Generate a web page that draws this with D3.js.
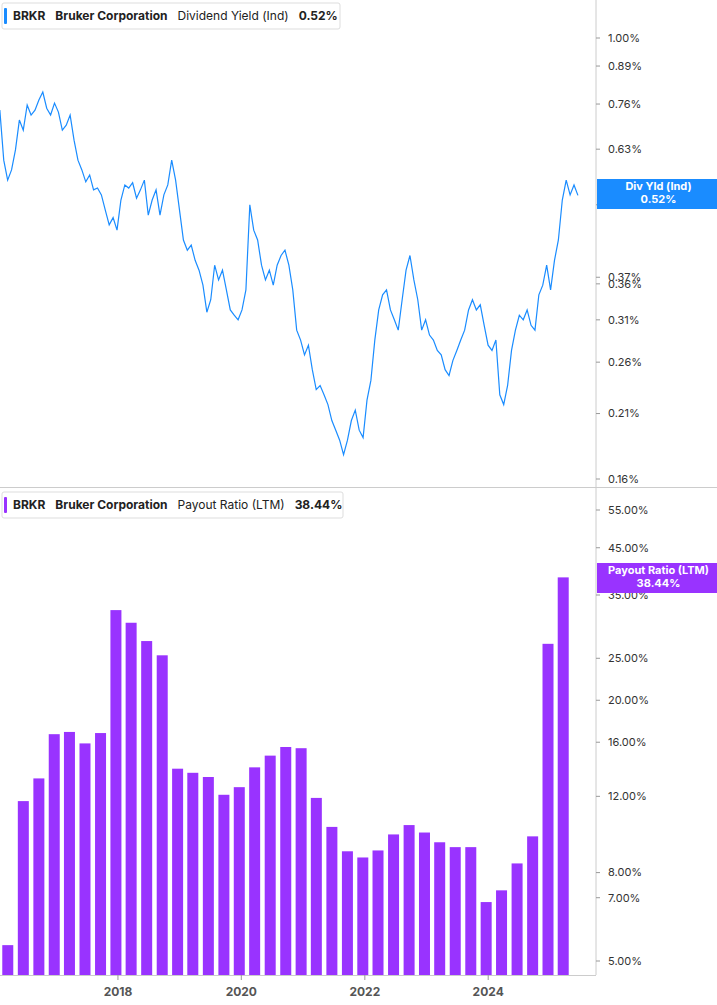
<!DOCTYPE html>
<html><head><meta charset="utf-8">
<script src="https://cdn.jsdelivr.net/npm/d3@7"></script>
<style>body{margin:0;background:#fff;font-family:Inter,"Open Sans",sans-serif}</style>
</head><body><svg id="c" width="717" height="1005"></svg>
<script>
const yieldStart = "2016-02-02", yieldEnd = "2025-06-15";
const yieldValues = [.741,.602,.554,.578,.628,.711,.682,.757,.726,.741,.773,.799,.747,.726,.763,.735,.682,.696,.726,.654,.602,.578,.550,.566,.532,.536,.521,.489,.460,.474,.450,.510,.543,.536,.548,.514,.532,.554,.479,.510,.532,.479,.521,.543,.602,.554,.489,.432,.414,.423,.397,.381,.358,.320,.337,.389,.366,.381,.351,.323,.316,.310,.323,.351,.500,.450,.432,.389,.366,.381,.358,.389,.405,.414,.389,.351,.297,.285,.268,.279,.252,.232,.236,.227,.218,.204,.196,.188,.177,.188,.204,.213,.196,.190,.222,.241,.285,.323,.344,.351,.323,.310,.297,.337,.381,.405,.366,.337,.297,.310,.291,.285,.273,.268,.252,.246,.262,.273,.285,.297,.323,.337,.323,.330,.303,.279,.273,.285,.227,.218,.236,.273,.297,.316,.310,.323,.303,.297,.344,.358,.389,.351,.397,.432,.510,.554,.521,.543,.520];
const yieldTicks = [1.00,0.89,0.76,0.63,0.50,0.37,0.36,0.31,0.26,0.21,0.16];
const payoutQuarters = ["2016-03","2016-06","2016-09","2016-12","2017-03","2017-06","2017-09","2017-12","2018-03","2018-06","2018-09","2018-12","2019-03","2019-06","2019-09","2019-12","2020-03","2020-06","2020-09","2020-12","2021-03","2021-06","2021-09","2021-12","2022-03","2022-06","2022-09","2022-12","2023-03","2023-06","2023-09","2023-12","2024-03","2024-06","2024-09","2024-12","2025-03"];
const payoutValues = [5.44,11.7,13.2,16.7,16.9,15.9,16.8,32.3,30.2,27.4,25.4,13.9,13.6,13.3,12.1,12.6,14.0,14.9,15.6,15.5,11.9,10.2,8.96,8.67,9.0,9.8,10.3,9.9,9.4,9.16,9.16,6.84,7.28,8.4,9.7,27.0,38.44];
const payoutTicks = [55,45,35,25,20,16,12,8,7,5];
const xTicks = [2018,2020,2022,2024];

const svg = d3.select("#c");
const W=717, plotR=596;
const x = d3.scaleTime().domain([new Date(2016,1,3), new Date(2025,8,30)]).range([0,plotR]);
const yT = d3.scaleLog().domain([1.0,0.16]).range([38,479]);
const yB = d3.scaleLog().domain([55,5]).range([510,961]);
const idx = d3.scaleLinear().domain([0,yieldValues.length-1]).range([new Date(yieldStart),new Date(yieldEnd)]);

// frame lines
svg.append("line").attr("x1",plotR).attr("x2",plotR).attr("y1",0).attr("y2",975).attr("stroke","#ccc");
svg.append("line").attr("x1",0).attr("x2",W).attr("y1",487.5).attr("y2",487.5).attr("stroke","#ccc");
svg.append("line").attr("x1",0).attr("x2",plotR).attr("y1",975.5).attr("y2",975.5).attr("stroke","#ccc");

// top line
svg.append("path").datum(yieldValues)
 .attr("d",d3.line().x((d,i)=>x(idx(i))).y(d=>yT(d)))
 .attr("fill","none").attr("stroke","#1a8cff").attr("stroke-width",1.2);

// bars
svg.selectAll("rect.b").data(payoutValues).join("rect").attr("class","b")
 .attr("x",(d,i)=>{const [y,m]=payoutQuarters[i].split("-").map(Number);return x(new Date(y,m-1,20))-5.5;})
 .attr("width",11).attr("y",d=>yB(d)).attr("height",d=>975-yB(d)).attr("fill","#9933ff");

// right axes
function rAxis(scale,ticks,fmt){
  const g=svg.append("g").attr("font-size",11).attr("fill","#333");
  ticks.forEach(t=>{
    g.append("line").attr("x1",plotR).attr("x2",plotR+4).attr("y1",scale(t)).attr("y2",scale(t)).attr("stroke","#999");
    g.append("text").attr("x",plotR+12).attr("y",scale(t)).attr("dy","0.35em").text(fmt(t));
  });
}
rAxis(yT,yieldTicks,t=>t.toFixed(2)+"%");
rAxis(yB,payoutTicks,t=>t.toFixed(2)+"%");

// x axis
xTicks.forEach(t=>{
  const xx=x(new Date(t,0,1));
  svg.append("line").attr("x1",xx).attr("x2",xx).attr("y1",975).attr("y2",980).attr("stroke","#999");
  svg.append("text").attr("x",xx).attr("y",992).attr("dy","0.35em").attr("text-anchor","middle")
   .attr("font-size",12).attr("font-weight","bold").attr("fill","#555").text(t);
});

// value labels at right
function tag(y,color,l1,l2){
  const g=svg.append("g");
  g.append("rect").attr("x",plotR+1).attr("y",y-15).attr("width",W-plotR).attr("height",30).attr("fill",color);
  g.append("text").attr("x",(plotR+W)/2+2).attr("y",y-4).attr("text-anchor","middle").attr("fill","#fff").attr("font-size",11).attr("font-weight","bold").text(l1);
  g.append("text").attr("x",(plotR+W)/2+2).attr("y",y+9).attr("text-anchor","middle").attr("fill","#fff").attr("font-size",11).attr("font-weight","bold").text(l2);
}
tag(194,"#1a8cff","Div Yld (Ind)","0.52%");
tag(578,"#9933ff","Payout Ratio (LTM)","38.44%");

// legends
function legend(y,color,name,val,w){
  const g=svg.append("g");
  g.append("rect").attr("x",2).attr("y",y).attr("width",w).attr("height",26).attr("fill","#fff").attr("stroke","#ddd").attr("rx",2);
  g.append("rect").attr("x",4).attr("y",y+5).attr("width",3).attr("height",16).attr("fill",color).attr("rx",1);
  const t=g.append("text").attr("x",13).attr("y",y+17).attr("font-size",12).attr("fill","#222");
  t.append("tspan").attr("font-weight","bold").text("BRKR");
  t.append("tspan").attr("dx",10).attr("font-weight","bold").text("Bruker Corporation");
  t.append("tspan").attr("dx",10).text(name);
  t.append("tspan").attr("dx",10).attr("font-weight","bold").text(val);
}
legend(3,"#1a8cff","Dividend Yield (Ind)","0.52%",338);
legend(492,"#9933ff","Payout Ratio (LTM)","38.44%",341);
</script></body></html>
